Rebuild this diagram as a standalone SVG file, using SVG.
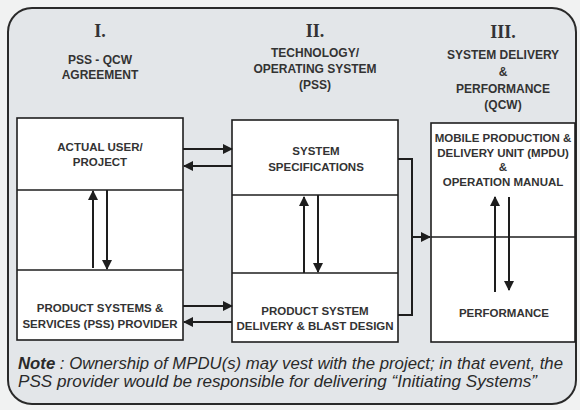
<svg xmlns="http://www.w3.org/2000/svg" width="580" height="410" viewBox="0 0 580 410">
<defs>
<style>
.bg{fill:#f1f2f2}
.frame{fill:#e3e6e9;stroke:#2a2a2a;stroke-width:2}
.box{fill:#ffffff;stroke:#1e1e1e;stroke-width:1.6}
.div{stroke:#1e1e1e;stroke-width:1.6;fill:none}
.num{font-family:"Liberation Serif",serif;font-size:18px;font-weight:bold;fill:#333;text-anchor:middle}
.hd{font-family:"Liberation Sans",Arial,sans-serif;font-size:12px;font-weight:bold;fill:#333;text-anchor:middle}
.lb{font-family:"Liberation Sans",Arial,sans-serif;font-size:11.5px;font-weight:bold;fill:#333;text-anchor:middle}
.note{font-family:"Liberation Sans",Arial,sans-serif;font-size:16px;font-style:italic;fill:#2a2a2a}
.ar{stroke:#1e1e1e;stroke-width:2;fill:none;marker-end:url(#ah)}
.ln{stroke:#1e1e1e;stroke-width:2;fill:none}
</style>
<marker id="ah" viewBox="0 0 10 10" refX="9" refY="5" markerWidth="5.5" markerHeight="5" orient="auto" markerUnits="strokeWidth">
<path d="M0,0 L10,5 L0,10 z" fill="#1e1e1e"/>
</marker>
</defs>
<rect class="bg" x="0" y="0" width="580" height="410"/>
<rect class="frame" x="8" y="8" width="568" height="396" rx="24" ry="24"/>

<g id="header-1">
<text class="num" x="100" y="37">I.</text>
<text class="hd" x="100" y="64">PSS - QCW</text>
<text class="hd" x="100" y="79">AGREEMENT</text>
</g>
<g id="header-2">
<text class="num" x="315" y="37">II.</text>
<text class="hd" x="315" y="57">TECHNOLOGY/</text>
<text class="hd" x="315" y="73">OPERATING SYSTEM</text>
<text class="hd" x="315" y="89">(PSS)</text>
</g>
<g id="header-3">
<text class="num" x="503" y="38">III.</text>
<text class="hd" x="503" y="59">SYSTEM DELIVERY</text>
<text class="hd" x="503" y="76">&amp;</text>
<text class="hd" x="503" y="93">PERFORMANCE</text>
<text class="hd" x="503" y="109">(QCW)</text>
</g>

<g id="col-1">
<rect class="box" x="17" y="118" width="166" height="222"/>
<line class="div" x1="17" y1="190" x2="183" y2="190"/>
<line class="div" x1="17" y1="270" x2="183" y2="270"/>
</g>
<g id="actual-user">
<text class="lb" x="100" y="151">ACTUAL USER/</text>
<text class="lb" x="100" y="166">PROJECT</text>
</g>
<g id="pss-provider">
<text class="lb" x="100" y="312">PRODUCT SYSTEMS &amp;</text>
<text class="lb" x="100" y="328">SERVICES (PSS) PROVIDER</text>
</g>

<g id="col-2">
<rect class="box" x="232" y="120" width="166" height="222"/>
<line class="div" x1="232" y1="195" x2="398" y2="195"/>
<line class="div" x1="232" y1="273" x2="398" y2="273"/>
</g>
<g id="system-specifications">
<text class="lb" x="316" y="155">SYSTEM</text>
<text class="lb" x="316" y="171">SPECIFICATIONS</text>
</g>
<g id="product-system-delivery">
<text class="lb" x="315" y="315">PRODUCT SYSTEM</text>
<text class="lb" x="315" y="330">DELIVERY &amp; BLAST DESIGN</text>
</g>

<g id="col-3">
<rect class="box" x="431" y="123" width="144" height="219"/>
<line class="div" x1="431" y1="237" x2="575" y2="237"/>
</g>
<g id="mpdu">
<text class="lb" x="503" y="142">MOBILE PRODUCTION &amp;</text>
<text class="lb" x="503" y="157">DELIVERY UNIT (MPDU)</text>
<text class="lb" x="503" y="171">&amp;</text>
<text class="lb" x="503" y="186">OPERATION MANUAL</text>
</g>
<g id="performance">
<text class="lb" x="504" y="317">PERFORMANCE</text>
</g>

<g id="connectors">
<line class="ar" x1="183" y1="149" x2="232" y2="149"/>
<line class="ar" x1="232" y1="166" x2="184" y2="166"/>
<line class="ar" x1="183" y1="306" x2="232" y2="306"/>
<line class="ar" x1="232" y1="322" x2="184" y2="322"/>
<line class="ar" x1="93" y1="268" x2="93" y2="191"/>
<line class="ar" x1="107" y1="190" x2="107" y2="269"/>
<line class="ar" x1="304" y1="273" x2="304" y2="197"/>
<line class="ar" x1="318" y1="195" x2="318" y2="272"/>
<line class="ar" x1="495" y1="292" x2="495" y2="197"/>
<line class="ar" x1="509" y1="197" x2="509" y2="290"/>
<polyline class="ln" points="398,159 412,159 412,315 398,315"/>
<line class="ar" x1="412" y1="237" x2="430" y2="237"/>
</g>

<g id="note">
<text class="note" x="18" y="369" textLength="545" lengthAdjust="spacingAndGlyphs"><tspan font-weight="bold">Note</tspan> : Ownership of MPDU(s) may vest with the project; in that event, the</text>
<text class="note" x="18" y="387" textLength="519" lengthAdjust="spacingAndGlyphs">PSS provider would be responsible for delivering “Initiating Systems”</text>
</g>
</svg>
